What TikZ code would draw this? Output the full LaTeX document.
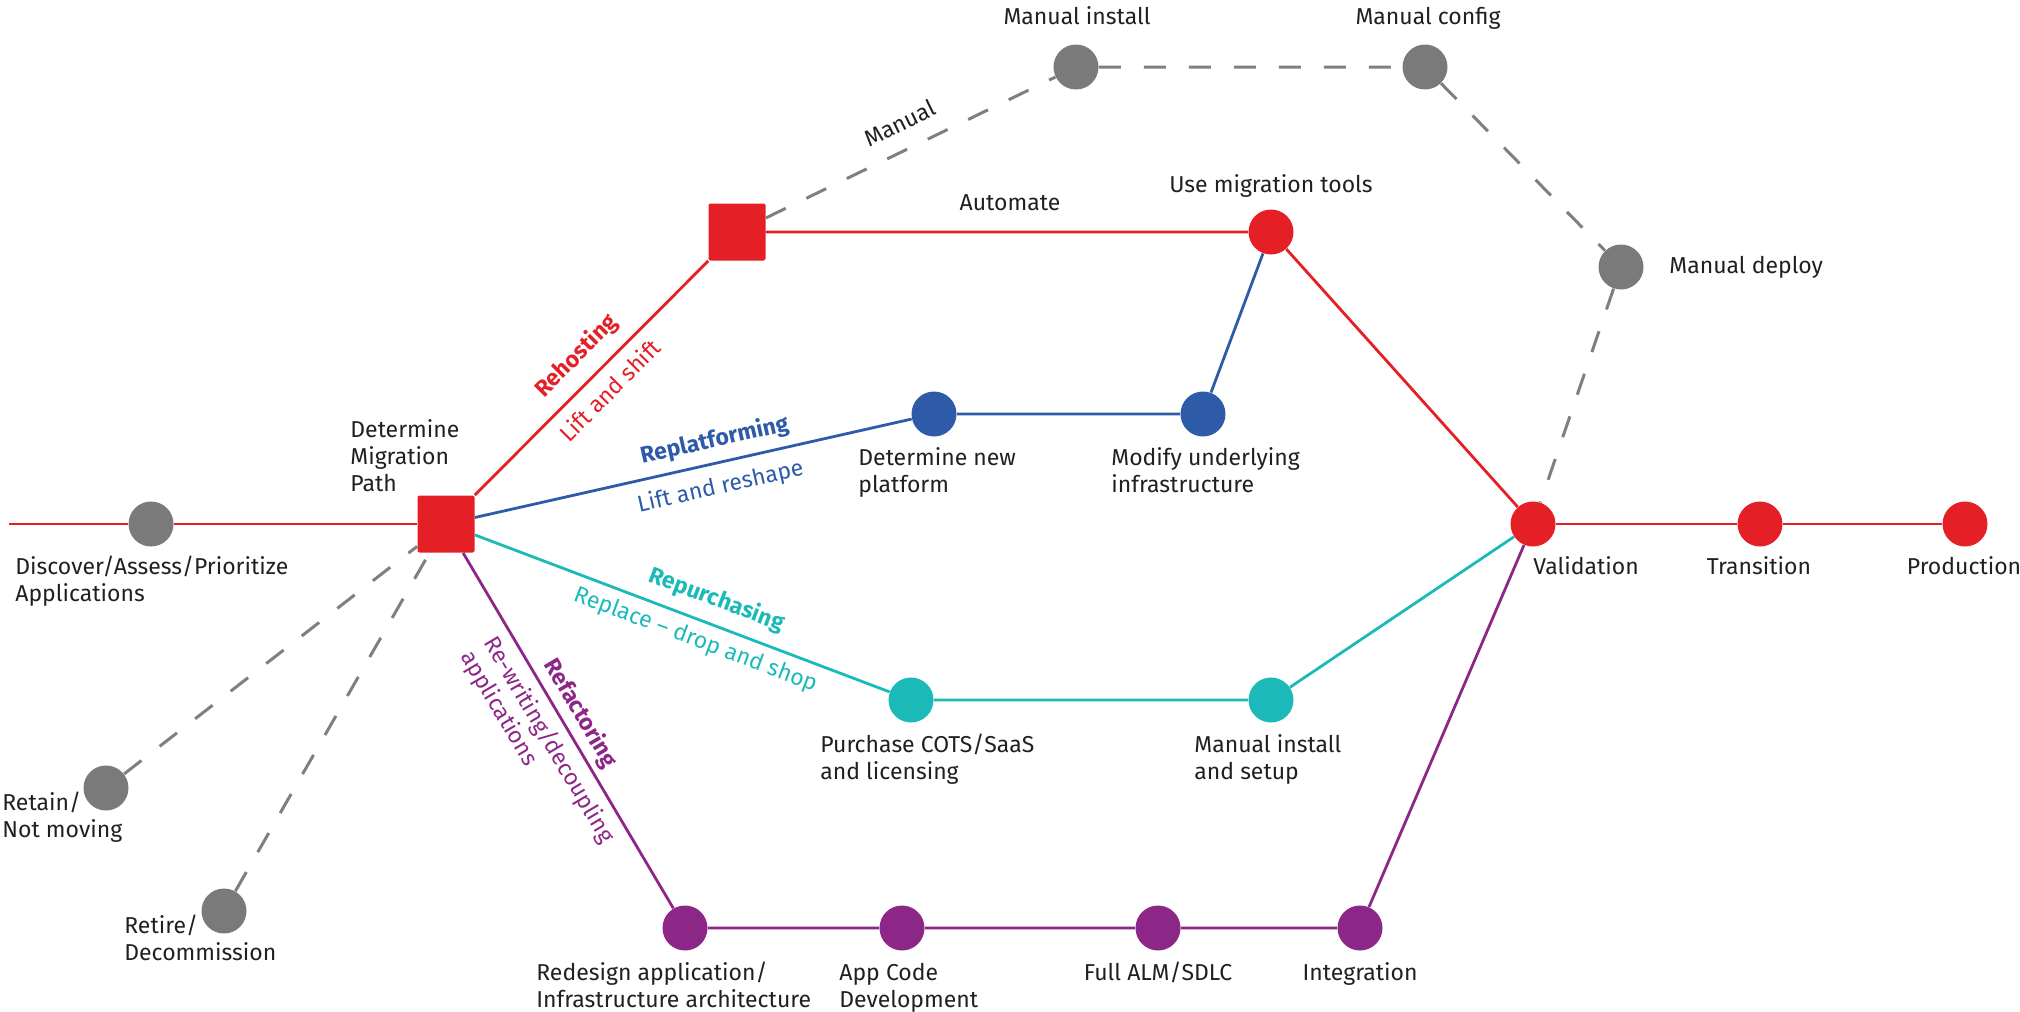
\documentclass[tikz,border=0pt]{standalone}
\usepackage{fontspec}
\setmainfont{Fira Sans}

\definecolor{mred}{HTML}{E41F26}
\definecolor{mblue}{HTML}{2E5BA8}
\definecolor{mteal}{HTML}{1BBAB8}
\definecolor{mpurple}{HTML}{8C2787}
\definecolor{mgray}{HTML}{7A7A7A}
\definecolor{mdash}{HTML}{7F7F7F}
\definecolor{ink}{HTML}{231F20}

\begin{document}
\begin{tikzpicture}[x=0.5pt, y=-0.5pt,
  station/.style={circle, minimum size=22.5pt, inner sep=0pt, fill=#1},
  hub/.style={rectangle, minimum size=28.5pt, inner sep=0pt, fill=mred, rounded corners=1pt},
  track/.style={draw=#1, line width=1.4pt},
  dashline/.style={draw=mdash, line width=1.5pt, dash pattern=on 11pt off 11.5pt},
  lbl/.style={text=ink, font=\fontsize{11.5}{13.4}\selectfont, inner sep=0pt, align=left},
  tag/.style={text=#1, font=\bfseries\fontsize{11.5}{13.4}\selectfont, inner sep=0pt, sloped},
  sub/.style={text=#1, font=\fontsize{11.5}{13.4}\selectfont, inner sep=0pt, sloped},
]
\useasboundingbox (0,0) rectangle (2020,1012);

% stations
\coordinate (start) at (9,524);
\node[station=mgray] (discover) at (151,524) {};
\node[station=mgray] (retain) at (106,788) {};
\node[station=mgray] (retire) at (224,911) {};
\node[hub] (decide) at (446,524) {};
\node[hub] (rehost) at (737,232) {};
\node[station=mgray] (minstall) at (1076,67) {};
\node[station=mgray] (mconfig) at (1425,67) {};
\node[station=mgray] (mdeploy) at (1621,267) {};
\node[station=mred] (tools) at (1271,232) {};
\node[station=mblue] (newplat) at (934,414) {};
\node[station=mblue] (modify) at (1203,414) {};
\node[station=mred] (validation) at (1533,524) {};
\node[station=mred] (transition) at (1760,524) {};
\node[station=mred] (production) at (1965,524) {};
\node[station=mteal] (purchase) at (911,700) {};
\node[station=mteal] (setup) at (1271,700) {};
\node[station=mpurple] (redesign) at (685,928) {};
\node[station=mpurple] (appcode) at (902,928) {};
\node[station=mpurple] (alm) at (1158,928) {};
\node[station=mpurple] (integration) at (1360,928) {};

% main line
\draw[track=mred] (start) -- (discover) -- (decide);
\draw[track=mred] (validation) -- (transition) -- (production);

% rehosting
\draw[track=mred] (decide)
  -- node[tag=mred, pos=.515, yshift=13pt] (rehostTag) {Rehosting}
     node[sub=mred, pos=.513, yshift=-10.75pt] (rehostSub) {Lift and shift}
  (rehost) -- (tools) -- (validation);

% replatforming
\draw[track=mblue] (decide)
  -- node[tag=mblue, pos=.56, yshift=11.2pt] (replatTag) {Replatforming}
     node[sub=mblue, pos=.55, yshift=-12.3pt] (replatSub) {Lift and reshape}
  (newplat) -- (modify) -- (tools);

% repurchasing
\draw[track=mteal] (decide)
  -- node[tag=mteal, pos=.562, yshift=12.45pt] (repurTag) {Repurchasing}
     node[sub=mteal, pos=.549, yshift=-10.2pt] (repurSub) {Replace -- drop and shop}
  (purchase) -- (setup) -- (validation);

% refactoring
\draw[track=mpurple] (decide)
  -- node[tag=mpurple, pos=.479, yshift=9.6pt] (refacTag) {Refactoring}
     node[sub=mpurple, pos=.496, yshift=-17.5pt, align=left] (refacSub) {Re-writing/decoupling\\applications}
  (redesign) -- (appcode) -- (alm) -- (integration) -- (validation);

% manual path and non-migrating options
\draw[dashline] (rehost)
  -- node[sub=ink, pos=.503, yshift=13.35pt] (manualTag) {Manual}
  (minstall) -- (mconfig) -- (mdeploy) -- (validation);
\draw[dashline] (retain) -- (decide);
\draw[dashline] (retire) -- (decide);

% station labels (multi-line labels sit on the baseline of their last line)
\node[lbl, anchor=base west] (discoverLbl) at (15,601) {Discover/Assess/Prioritize\\Applications};
\node[lbl, anchor=base west] (decideLbl) at (350,491) {Determine\\Migration\\Path};
\node[lbl, anchor=base] (minstallLbl) at (1077,25) {Manual install};
\node[lbl, anchor=base] (mconfigLbl) at (1428,25) {Manual config};
\node[lbl, anchor=base] (automateLbl) at (1010,210) {Automate};
\node[lbl, anchor=base] (toolsLbl) at (1271,192) {Use migration tools};
\node[lbl, anchor=base west] (mdeployLbl) at (1669,273) {Manual deploy};
\node[lbl, anchor=base west] (newplatLbl) at (858,492) {Determine new\\platform};
\node[lbl, anchor=base west] (modifyLbl) at (1111,492) {Modify underlying\\infrastructure};
\node[lbl, anchor=base west] (validationLbl) at (1533,574) {Validation};
\node[lbl, anchor=base] (transitionLbl) at (1759,574) {Transition};
\node[lbl, anchor=base] (productionLbl) at (1964,574) {Production};
\node[lbl, anchor=base west] (purchaseLbl) at (820,779) {Purchase COTS/SaaS\\and licensing};
\node[lbl, anchor=base west] (setupLbl) at (1194,779) {Manual install\\and setup};
\node[lbl, anchor=base west] (retainLbl) at (2,837) {Retain/\\Not moving};
\node[lbl, anchor=base west] (retireLbl) at (124,960) {Retire/\\Decommission};
\node[lbl, anchor=base west] (redesignLbl) at (536,1007) {Redesign application/\\Infrastructure architecture};
\node[lbl, anchor=base west] (appcodeLbl) at (839,1007) {App Code\\Development};
\node[lbl, anchor=base] (almLbl) at (1158,980) {Full ALM/SDLC};
\node[lbl, anchor=base] (integrationLbl) at (1360,980) {Integration};
\end{tikzpicture}
\end{document}
